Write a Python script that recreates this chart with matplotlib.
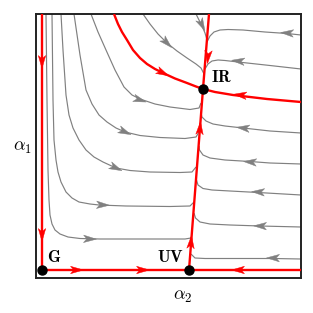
import numpy as np
import matplotlib
matplotlib.use('Agg')
import matplotlib.pyplot as plt
from matplotlib.patches import Polygon

plt.rcParams['mathtext.fontset'] = 'cm'

# pontos fixos (alpha2, alpha1)
pontos_nomes = ['G', 'UV', 'IR']
pontos_a2 = [0, 147, 161]
pontos_a1 = [0, 0, 181]

# linhas de fluxo cinzas (na direção do fluxo)
cinza_a2 = [
    [4, 5, 6, 7, 8, 10, 13, 18, 26, 38, 58, 108, 143, 149],
    [10, 11, 12, 14, 16, 19, 24, 30, 37, 48, 57, 84, 128, 148, 152],
    [19, 21, 24, 27, 31, 37, 44, 52, 61, 74, 88, 108, 138, 150, 154],
    [32, 38, 44, 50, 57, 65, 74, 83, 98, 118, 143, 154, 157],
    [49, 56, 64, 73, 82, 90, 98, 113, 128, 148, 157, 159],
    [101, 108, 116, 125, 135, 145, 154, 159, 162],
    [154, 157, 160, 163, 165],
    [259, 245, 223, 201, 186, 178, 172, 168, 165],
    [259, 228, 196, 183, 176, 170, 166, 163],
    [259, 228, 201, 183, 171, 164, 160, 159],
    [259, 228, 208, 183, 168, 161, 157.5, 157],
    [259, 216, 188, 170, 161, 156, 154.5],
    [259, 218, 188, 168, 158, 153.5, 152],
    [259, 231, 198, 163, 153, 149],
]
cinza_a1 = [
    [256, 170, 100, 70, 55, 46, 40, 36, 33, 31.5, 31, 31, 31, 32],
    [256, 170, 130, 110, 98, 88, 78, 72, 68, 66, 65, 64, 63.5, 64, 68],
    [256, 220, 175, 155, 142, 130, 120, 113, 108, 102, 99.5, 98, 97.5, 98, 103],
    [256, 215, 180, 166, 155, 148, 142, 138, 134.5, 132.5, 131.5, 133, 138],
    [256, 238, 220, 200, 183, 175, 171, 166, 163, 160.5, 162, 167],
    [256, 246, 236, 227, 219, 212, 206, 202, 196],
    [256, 250, 244, 237, 230],
    [235, 236.5, 238, 240, 240.5, 240, 238, 234, 228],
    [201, 204.5, 208, 209.5, 210, 209, 206, 201],
    [137, 139, 142, 144, 146, 149, 153, 157],
    [106, 107, 108.5, 110, 112, 115, 120, 124],
    [75, 77.5, 79, 80, 81.5, 85, 90],
    [43, 44, 45, 46, 48, 52, 57],
    [11, 11.5, 11.5, 11.5, 12, 16],
]
cinza_seta_a2 = [48, 61, 74, 83, 98, 125, 160, 245, 196, 201, 208, 216, 218, 231]
cinza_seta_a1 = [31, 65, 102, 138, 170, 227, 245, 237, 209, 142, 108, 78, 44, 12]

# separatrizes vermelhas (na direção do fluxo)
verm_a2 = [
    [0, 0],
    [0, 147],
    [259, 147],
    [147, 161],
    [167, 161],
    [72, 76, 80, 85, 91, 98, 105, 113, 121, 133, 145, 154, 161],
    [259, 225, 191, 173, 161],
]
verm_a1 = [
    [256, 0],
    [0, 0],
    [0, 0],
    [0, 181],
    [256, 181],
    [256, 246, 238, 230, 220, 212, 206, 201, 197, 191.5, 187, 183.5, 181],
    [168, 171, 175, 178, 181],
]
verm_seta_curva = [0, 0, 1, 1, 2, 3, 3, 4, 5, 6]
verm_seta_a2 = [0, 0, 35, 101, 196, 149, 158, 166, 121, 198]
verm_seta_a1 = [208, 35, 0, 0, 0, 28, 142, 213, 197, 175]


def seta(ax, xs, ys, px, py, cor, L, W, z):
    # direção do segmento mais próximo da posição da seta
    xs = np.asarray(xs, float)
    ys = np.asarray(ys, float)
    ax_, ay_ = xs[:-1], ys[:-1]
    dx, dy = xs[1:] - ax_, ys[1:] - ay_
    t = ((px - ax_) * dx + (py - ay_) * dy) / (dx ** 2 + dy ** 2)
    t = np.clip(t, 0, 1)
    dist = (ax_ + t * dx - px) ** 2 + (ay_ + t * dy - py) ** 2
    i = np.argmin(dist)
    d = np.array([dx[i], dy[i]])
    d = d / np.hypot(*d)
    n = np.array([-d[1], d[0]])
    c = np.array([px, py])
    ponta = c + 0.5 * L * d
    tras = c - 0.5 * L * d
    vert = [ponta, tras + 0.5 * W * n, c - 0.25 * L * d, tras - 0.5 * W * n]
    ax.add_patch(Polygon(vert, closed=True, facecolor=cor, edgecolor=cor,
                         lw=0.3, zorder=z))


fig = plt.figure(figsize=(3.13, 3.13), dpi=100)
ax = fig.add_axes([36 / 313, 35 / 313, 265 / 313, 264 / 313])

cinza = '#808080'
for k in range(len(cinza_a2)):
    ax.plot(cinza_a2[k], cinza_a1[k], color=cinza, lw=0.85, zorder=2,
            solid_capstyle='butt', solid_joinstyle='round')
    seta(ax, cinza_a2[k], cinza_a1[k], cinza_seta_a2[k], cinza_seta_a1[k],
         cinza, 13, 7.5, 3)

for k in range(len(verm_a2)):
    ax.plot(verm_a2[k], verm_a1[k], color='#ff0000', lw=1.7, zorder=4,
            solid_capstyle='butt', solid_joinstyle='round')
for k, px, py in zip(verm_seta_curva, verm_seta_a2, verm_seta_a1):
    seta(ax, verm_a2[k], verm_a1[k], px, py, '#ff0000', 13, 7.5, 5)

ax.plot(pontos_a2, pontos_a1, 'o', color='black', ms=6.5, zorder=6, clip_on=False)

rot_pos = {'G': (12, 13), 'UV': (129, 13), 'IR': (180, 193)}
for nome in pontos_nomes:
    x, y = rot_pos[nome]
    ax.text(x, y, r'$\mathbf{' + nome + '}$', fontsize=12, ha='center',
            va='center', zorder=7)

ax.text(141, -26, r'$\alpha_2$', fontsize=13, ha='center', va='center',
        clip_on=False)
ax.text(-20, 123, r'$\alpha_1$', fontsize=13, ha='center', va='center',
        clip_on=False)

ax.set_xlim(-6, 259)
ax.set_ylim(-8, 256)
ax.set_xticks([])
ax.set_yticks([])
for s in ax.spines.values():
    s.set_linewidth(1.4)
    s.set_color('#222222')

plt.savefig('out.png', dpi=100)
